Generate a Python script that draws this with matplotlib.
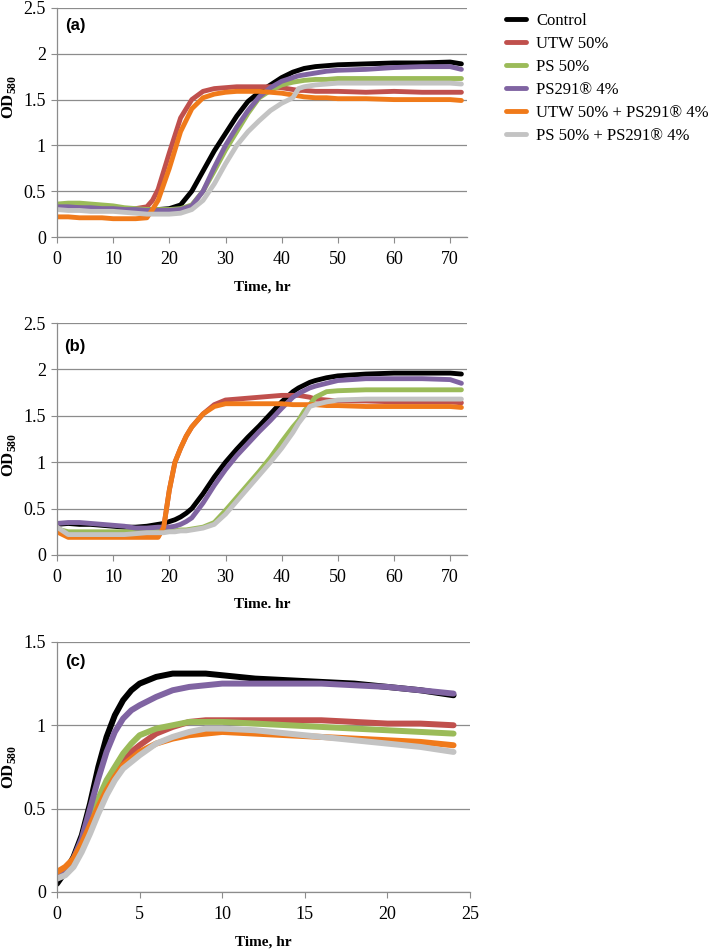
import numpy as np
import matplotlib
matplotlib.use("Agg")
from matplotlib import pyplot as plt

plt.rcParams['font.family'] = ['Liberation Serif', 'DejaVu Serif']
plt.rcParams['mathtext.fontset'] = 'custom'
plt.rcParams['mathtext.rm'] = 'Liberation Serif'
plt.rcParams['mathtext.bf'] = 'Liberation Serif:bold'

#--- series names / colours
names = ['Control', 'UTW 50%', 'PS 50%', 'PS291\u00ae 4%',
         'UTW 50% + PS291\u00ae 4%', 'PS 50% + PS291\u00ae 4%']
colors = ['#000000', '#C0504D', '#9BBB59', '#8064A2', '#F07A1A', '#C3C3C3']

#--- panel (a), 72 h run
t_a = [0, 2, 4, 6, 8, 10, 12, 14, 16, 17, 18, 20, 22, 24, 26, 28, 30, 32, 34, 36,
       38, 40, 42, 43, 44, 46, 48, 50, 55, 60, 65, 70, 72]
a_control = [0.33, 0.32, 0.32, 0.31, 0.31, 0.32, 0.30, 0.30, 0.30, 0.30, 0.30, 0.31, 0.35, 0.50, 0.72, 0.94, 1.13, 1.32, 1.48, 1.58,
             1.66, 1.74, 1.80, 1.82, 1.84, 1.86, 1.87, 1.88, 1.89, 1.90, 1.90, 1.91, 1.89]
a_utw = [0.33, 0.32, 0.32, 0.31, 0.31, 0.30, 0.30, 0.31, 0.33, 0.40, 0.52, 0.92, 1.30, 1.50, 1.59, 1.62, 1.63, 1.64, 1.64, 1.64,
         1.64, 1.63, 1.61, 1.60, 1.60, 1.59, 1.59, 1.59, 1.58, 1.59, 1.58, 1.58, 1.58]
a_ps = [0.36, 0.37, 0.37, 0.36, 0.35, 0.34, 0.32, 0.31, 0.30, 0.30, 0.30, 0.30, 0.31, 0.35, 0.50, 0.72, 0.95, 1.15, 1.35, 1.52,
        1.60, 1.66, 1.69, 1.70, 1.71, 1.72, 1.72, 1.73, 1.73, 1.73, 1.73, 1.73, 1.73]
a_ps291 = [0.33, 0.33, 0.32, 0.32, 0.31, 0.31, 0.30, 0.30, 0.29, 0.29, 0.29, 0.29, 0.30, 0.34, 0.50, 0.76, 1.00, 1.20, 1.38, 1.53,
           1.63, 1.70, 1.74, 1.76, 1.77, 1.79, 1.81, 1.82, 1.83, 1.85, 1.86, 1.86, 1.83]
a_utw_ps291 = [0.22, 0.22, 0.21, 0.21, 0.21, 0.20, 0.20, 0.20, 0.21, 0.30, 0.40, 0.75, 1.15, 1.40, 1.52, 1.56, 1.58, 1.59, 1.59, 1.59,
               1.58, 1.57, 1.55, 1.54, 1.53, 1.52, 1.52, 1.51, 1.51, 1.50, 1.50, 1.50, 1.49]
a_ps_ps291 = [0.30, 0.29, 0.29, 0.28, 0.28, 0.28, 0.27, 0.26, 0.25, 0.25, 0.25, 0.25, 0.26, 0.30, 0.40, 0.58, 0.80, 1.00, 1.15, 1.27,
              1.38, 1.46, 1.52, 1.62, 1.64, 1.66, 1.67, 1.68, 1.68, 1.68, 1.68, 1.68, 1.67]

#--- panel (b), 72 h run
t_b = [0, 2, 4, 6, 8, 10, 12, 14, 16, 18, 19, 20, 21, 22, 23, 24, 26, 28, 30, 32, 34, 36,
       38, 40, 42, 43, 44, 45, 46, 48, 50, 55, 60, 65, 70, 72]
b_control = [0.33, 0.34, 0.33, 0.33, 0.32, 0.31, 0.30, 0.30, 0.31, 0.33, 0.34, 0.36, 0.38, 0.41, 0.45, 0.50, 0.66, 0.84, 1.00, 1.14, 1.27, 1.39,
             1.52, 1.65, 1.76, 1.80, 1.83, 1.86, 1.88, 1.91, 1.93, 1.95, 1.96, 1.96, 1.96, 1.95]
b_utw = [0.30, 0.20, 0.20, 0.20, 0.20, 0.20, 0.20, 0.20, 0.20, 0.20, 0.30, 0.70, 1.00, 1.15, 1.28, 1.38, 1.52, 1.62, 1.67, 1.68, 1.69, 1.70,
         1.71, 1.72, 1.72, 1.72, 1.71, 1.70, 1.68, 1.67, 1.66, 1.66, 1.65, 1.65, 1.65, 1.64]
b_ps = [0.28, 0.25, 0.25, 0.25, 0.25, 0.25, 0.25, 0.25, 0.25, 0.26, 0.26, 0.26, 0.26, 0.27, 0.27, 0.28, 0.30, 0.35, 0.48, 0.62, 0.76, 0.90,
        1.05, 1.22, 1.38, 1.45, 1.55, 1.62, 1.70, 1.76, 1.77, 1.78, 1.78, 1.78, 1.78, 1.78]
b_ps291 = [0.34, 0.35, 0.35, 0.34, 0.33, 0.32, 0.31, 0.29, 0.29, 0.30, 0.30, 0.30, 0.31, 0.33, 0.36, 0.40, 0.56, 0.75, 0.92, 1.07, 1.20, 1.33,
           1.45, 1.58, 1.70, 1.74, 1.77, 1.80, 1.82, 1.85, 1.88, 1.90, 1.90, 1.90, 1.89, 1.85]
b_utw_ps291 = [0.25, 0.19, 0.19, 0.19, 0.19, 0.19, 0.19, 0.19, 0.19, 0.19, 0.30, 0.70, 1.00, 1.15, 1.28, 1.38, 1.52, 1.60, 1.63, 1.63, 1.63, 1.63,
               1.63, 1.63, 1.62, 1.62, 1.62, 1.62, 1.62, 1.61, 1.61, 1.60, 1.60, 1.60, 1.60, 1.59]
b_ps_ps291 = [0.30, 0.22, 0.22, 0.22, 0.22, 0.22, 0.22, 0.23, 0.24, 0.24, 0.24, 0.25, 0.25, 0.26, 0.26, 0.27, 0.29, 0.33, 0.44, 0.58, 0.72, 0.86,
              1.00, 1.15, 1.32, 1.42, 1.50, 1.60, 1.62, 1.65, 1.67, 1.68, 1.68, 1.68, 1.68, 1.68]

#--- panel (c), 24 h run
t_c = [0, 0.5, 1, 1.5, 2, 2.5, 3, 3.5, 4, 4.5, 5, 6, 7, 8, 9, 10, 12, 14, 16, 18, 20, 22, 24]
c_control = [0.05, 0.12, 0.21, 0.34, 0.53, 0.75, 0.93, 1.06, 1.15, 1.21, 1.25, 1.29, 1.31, 1.31, 1.31, 1.30, 1.28, 1.27, 1.26, 1.25, 1.23, 1.21, 1.18]
c_utw = [0.10, 0.12, 0.18, 0.28, 0.40, 0.52, 0.62, 0.71, 0.78, 0.84, 0.88, 0.95, 0.99, 1.02, 1.03, 1.03, 1.03, 1.03, 1.03, 1.02, 1.01, 1.01, 1.00]
c_ps = [0.09, 0.12, 0.19, 0.30, 0.43, 0.56, 0.67, 0.75, 0.83, 0.89, 0.94, 0.98, 1.00, 1.02, 1.02, 1.02, 1.01, 1.00, 0.99, 0.98, 0.97, 0.96, 0.95]
c_ps291 = [0.08, 0.12, 0.20, 0.32, 0.50, 0.68, 0.84, 0.96, 1.04, 1.09, 1.12, 1.17, 1.21, 1.23, 1.24, 1.25, 1.25, 1.25, 1.25, 1.24, 1.23, 1.21, 1.19]
c_utw_ps291 = [0.12, 0.15, 0.20, 0.29, 0.40, 0.51, 0.61, 0.69, 0.76, 0.80, 0.84, 0.89, 0.92, 0.94, 0.95, 0.96, 0.95, 0.94, 0.93, 0.92, 0.91, 0.90, 0.88]
c_ps_ps291 = [0.08, 0.10, 0.15, 0.24, 0.35, 0.47, 0.58, 0.67, 0.74, 0.78, 0.82, 0.89, 0.93, 0.96, 0.98, 0.98, 0.97, 0.95, 0.93, 0.91, 0.89, 0.87, 0.84]

series_a = [a_control, a_utw, a_ps, a_ps291, a_utw_ps291, a_ps_ps291]
series_b = [b_control, b_utw, b_ps, b_ps291, b_utw_ps291, b_ps_ps291]
series_c = [c_control, c_utw, c_ps, c_ps291, c_utw_ps291, c_ps_ps291]


def style_axes(ax, xlim, xticks, ylim, yticks, xlabel, tag, tag_xy, ylab_y):
    ax.set_xlim(*xlim)
    ax.set_ylim(*ylim)
    ax.set_xticks(xticks)
    ax.set_yticks(yticks)
    ax.set_yticklabels([('%g' % v) for v in yticks])
    ax.grid(axis='y', color='#8c8c8c', linewidth=0.9)
    ax.set_axisbelow(True)
    for s in ['top', 'right']:
        ax.spines[s].set_visible(False)
    for s in ['left', 'bottom']:
        ax.spines[s].set_color('#8c8c8c')
        ax.spines[s].set_linewidth(0.9)
    ax.tick_params(direction='out', length=4, color='#8c8c8c', labelsize=13)
    ax.tick_params(axis='x', pad=6)
    ax.tick_params(axis='y', pad=4)
    ax.set_xlabel(xlabel, fontsize=11, fontweight='bold', labelpad=9)
    ax.set_ylabel(r'OD$_{\mathbf{580}}$', fontsize=12, fontweight='bold')
    ax.yaxis.set_label_coords(0.026, ylab_y, transform=fig.transFigure)
    ax.text(tag_xy[0], tag_xy[1], tag, fontsize=12, fontweight='bold',
            family='Liberation Sans', va='top', ha='left')


fig = plt.figure(figsize=(7.09, 9.5), dpi=100)

ax_a = fig.add_axes([0.0804, 0.7505, 0.5783, 0.2411])
for y, c, n in zip(series_a, colors, names):
    ax_a.plot(t_a, y, color=c, linewidth=3.5, label=n, solid_capstyle='round')
style_axes(ax_a, (0, 73), range(0, 71, 10), (0, 2.5), [0, 0.5, 1, 1.5, 2, 2.5],
           'Time, hr', '(a)', (1.4, 2.39), 1 - 97 / 950)

ax_b = fig.add_axes([0.0804, 0.4158, 0.5783, 0.2442])
for y, c in zip(series_b, colors):
    ax_b.plot(t_b, y, color=c, linewidth=3.5, solid_capstyle='round')
style_axes(ax_b, (0, 73), range(0, 71, 10), (0, 2.5), [0, 0.5, 1, 1.5, 2, 2.5],
           'Time. hr', '(b)', (1.2, 2.33), 1 - 455 / 950)

ax_c = fig.add_axes([0.0804, 0.0611, 0.5826, 0.2632])
for y, c in zip(series_c, colors):
    ax_c.plot(t_c, y, color=c, linewidth=4.3, solid_capstyle='round')
style_axes(ax_c, (0, 25), range(0, 26, 5), (0, 1.5), [0, 0.5, 1, 1.5],
           'Time, hr', '(c)', (0.5, 1.43), 1 - 767 / 950)

handles, labels = ax_a.get_legend_handles_labels()
fig.legend(handles, labels, loc='upper left', bbox_to_anchor=(0.702, 0.995), frameon=False,
           fontsize=12, handlelength=1.2, handletextpad=0.6, labelspacing=0.42, borderpad=0)

fig.savefig('out.png', dpi=100)
